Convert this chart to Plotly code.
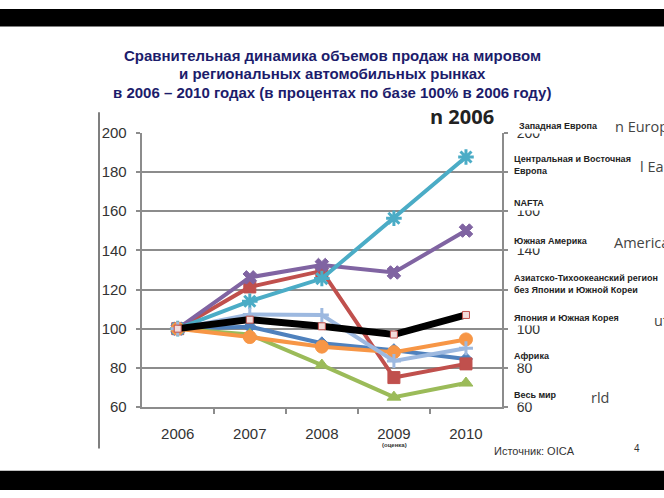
import plotly.graph_objects as go

years = [2006, 2007, 2008, 2009, 2010]
year_labels = ["2006", "2007", "2008", "2009", "2010"]

west_europe = [100, 101, 92.5, 89, 84.5]
central_east_europe = [100, 121.3, 129.5, 75, 82]
nafta = [100, 97, 81.4, 65, 72.2]
south_america = [100, 126.2, 132.5, 128.7, 150.1]
asia_pacific = [100, 114, 125.6, 156.4, 187.7]
japan_korea = [100, 95.7, 90.8, 88, 94.5]
africa = [100, 107.2, 107, 83.5, 90]
world = [100, 104.6, 101.2, 97, 107]

y_ticks = [60, 80, 100, 120, 140, 160, 180, 200]

W, H = 664, 498
def px(x): return x / W
def py(y): return 1 - y / H

fig = go.Figure()

series = [
    ("Западная Европа", west_europe, "#4F81BD", "diamond", 10, 4),
    ("Центральная и Восточная Европа", central_east_europe, "#C0504D", "square", 12, 4),
    ("NAFTA", nafta, "#9BBB59", "triangle-up", 12, 4),
    ("Южная Америка", south_america, "#8064A2", "x", 12, 4),
    ("Азиатско-Тихоокеанский регион без Японии и Южной Кореи", asia_pacific, "#4BACC6", "asterisk-open", 13, 4),
    ("Япония и Южная Корея", japan_korea, "#F79646", "circle", 13, 4),
    ("Африка", africa, "#9DB9E0", "cross-thin-open", 10, 4),
]
for name, vals, col, sym, sz, lw in series:
    fig.add_trace(go.Scatter(
        x=years, y=vals, name=name, mode="lines+markers",
        line=dict(color=col, width=lw),
        marker=dict(symbol=sym, size=sz, color=col,
                    line=dict(color=col, width=3 if "open" in sym else 1)),
        showlegend=False))

fig.add_trace(go.Scatter(
    x=years, y=world, name="Весь мир", mode="lines+markers",
    line=dict(color="black", width=7),
    marker=dict(symbol="square", size=7, color="#F2DCDB",
                line=dict(color="#C0504D", width=1)),
    showlegend=False))

grid_col = "#8C8C8C"
fig.update_layout(
    width=W, height=H,
    margin=dict(l=0, r=0, t=0, b=0),
    paper_bgcolor="white", plot_bgcolor="white",
    xaxis=dict(
        domain=[px(141.7), px(502)],
        range=[2005.5, 2010.5],
        tickvals=years, ticktext=year_labels,
        ticks="", showgrid=False, zeroline=False,
        showline=True, linecolor=grid_col, linewidth=2,
        tickfont=dict(family="Liberation Sans", size=15, color="#333333"),
        ticklabelstandoff=12,
        minor=dict(tickvals=[2006.5, 2007.5, 2008.5, 2009.5], ticks="outside",
                   ticklen=5, tickwidth=2, tickcolor=grid_col, showgrid=False),
    ),
    yaxis=dict(
        domain=[py(412), py(128.3)],
        range=[60, 200],
        tickvals=y_ticks,
        showgrid=True, gridcolor=grid_col, gridwidth=2, zeroline=False,
        showline=True, linecolor=grid_col, linewidth=2,
        ticks="outside", ticklen=4, tickwidth=2, tickcolor=grid_col,
        tickfont=dict(family="Liberation Sans", size=15, color="#333333"),
        ticklabelstandoff=6,
    ),
    yaxis2=dict(
        overlaying="y", side="right", anchor="x",
        range=[60, 200], tickvals=y_ticks,
        showgrid=False, zeroline=False,
        showline=True, linecolor=grid_col, linewidth=2,
        ticks="outside", ticklen=4, tickwidth=2, tickcolor=grid_col,
        tickfont=dict(family="Liberation Sans", size=14, color="#333333"),
        ticklabelstandoff=6,
    ),
)
# invisible trace so the right-hand axis is drawn
fig.add_trace(go.Scatter(x=[2006], y=[100], yaxis="y2", mode="markers",
                         marker=dict(opacity=0), showlegend=False, hoverinfo="skip"))

shapes = [
    dict(type="rect", xref="paper", yref="paper", x0=0, x1=1, y0=py(18), y1=1,
         fillcolor="black", line=dict(width=0), layer="above"),
    dict(type="rect", xref="paper", yref="paper", x0=0, x1=1, y0=0, y1=py(478),
         fillcolor="black", line=dict(width=0), layer="above"),
    dict(type="line", xref="paper", yref="paper", x0=px(99), x1=px(99),
         y0=py(107), y1=py(455), line=dict(color="#7F7F7F", width=2)),
]
fig.update_layout(shapes=shapes)

title_col = "#1C1C6B"
annotations = []
for txt, y in [("Сравнительная динамика объемов продаж на мировом", 48),
               ("и региональных автомобильных рынках", 67),
               ("в 2006 – 2010 годах (в процентах по базе 100% в 2006 году)", 86)]:
    annotations.append(dict(text=txt, x=px(332), y=py(y), xref="paper", yref="paper",
                            xanchor="center", yanchor="middle", showarrow=False,
                            font=dict(family="Liberation Sans", size=15, color=title_col, weight="bold")))

legend_items = [
    ("Западная Европа", 516, 121.5),
    ("Центральная и Восточная<br>Европа", 511, 161),
    ("NAFTA", 511, 201),
    ("Южная Америка", 511, 240),
    ("Азиатско-Тихоокеанский регион<br>без Японии и Южной Кореи", 511, 285),
    ("Япония и Южная Корея", 511, 320),
    ("Африка", 511, 359),
    ("Весь мир", 511, 400),
]
for txt, x, y in legend_items:
    annotations.append(dict(text=txt, x=px(x), y=py(y), xref="paper", yref="paper",
                            xanchor="left", yanchor="middle", align="left", showarrow=False,
                            bgcolor="white", borderpad=2,
                            font=dict(family="Liberation Sans", size=9, color="#222222", weight="bold")))

frag_font = dict(family="Open Sans", size=14.5, color="#444444")
for txt, x, y in [("n Europ", 613, 122), ("l Ea", 638, 163), ("America", 612, 242),
                  ("ut", 652, 322), ("rld", 589, 402)]:
    annotations.append(dict(text=txt, x=px(x), y=py(y), xref="paper", yref="paper",
                            xanchor="left", yanchor="middle", showarrow=False, font=frag_font))
annotations.append(dict(text="n 2006", x=px(428), y=py(111), xref="paper", yref="paper",
                        xanchor="left", yanchor="middle", showarrow=False,
                        font=dict(family="Open Sans", size=20, color="#222222", weight="bold")))
annotations.append(dict(text="(оценка)", x=px(394), y=py(451), xref="paper", yref="paper",
                        xanchor="center", yanchor="middle", showarrow=False,
                        font=dict(family="Liberation Sans", size=6, color="#333333", weight="bold")))
annotations.append(dict(text="Источник: OICA", x=px(492), y=py(458), xref="paper", yref="paper",
                        xanchor="left", yanchor="middle", showarrow=False,
                        font=dict(family="Liberation Sans", size=11, color="#333333")))
annotations.append(dict(text="4", x=px(637), y=py(455), xref="paper", yref="paper",
                        xanchor="center", yanchor="middle", showarrow=False,
                        font=dict(family="Liberation Sans", size=10, color="#333333")))
fig.update_layout(annotations=annotations)

css_js = ("var s=document.createElement('style');"
          "s.innerHTML='html,body{margin:0!important;padding:0!important;overflow:hidden;}';"
          "document.head.appendChild(s);")
fig.write_html("out.html", post_script=css_js)
